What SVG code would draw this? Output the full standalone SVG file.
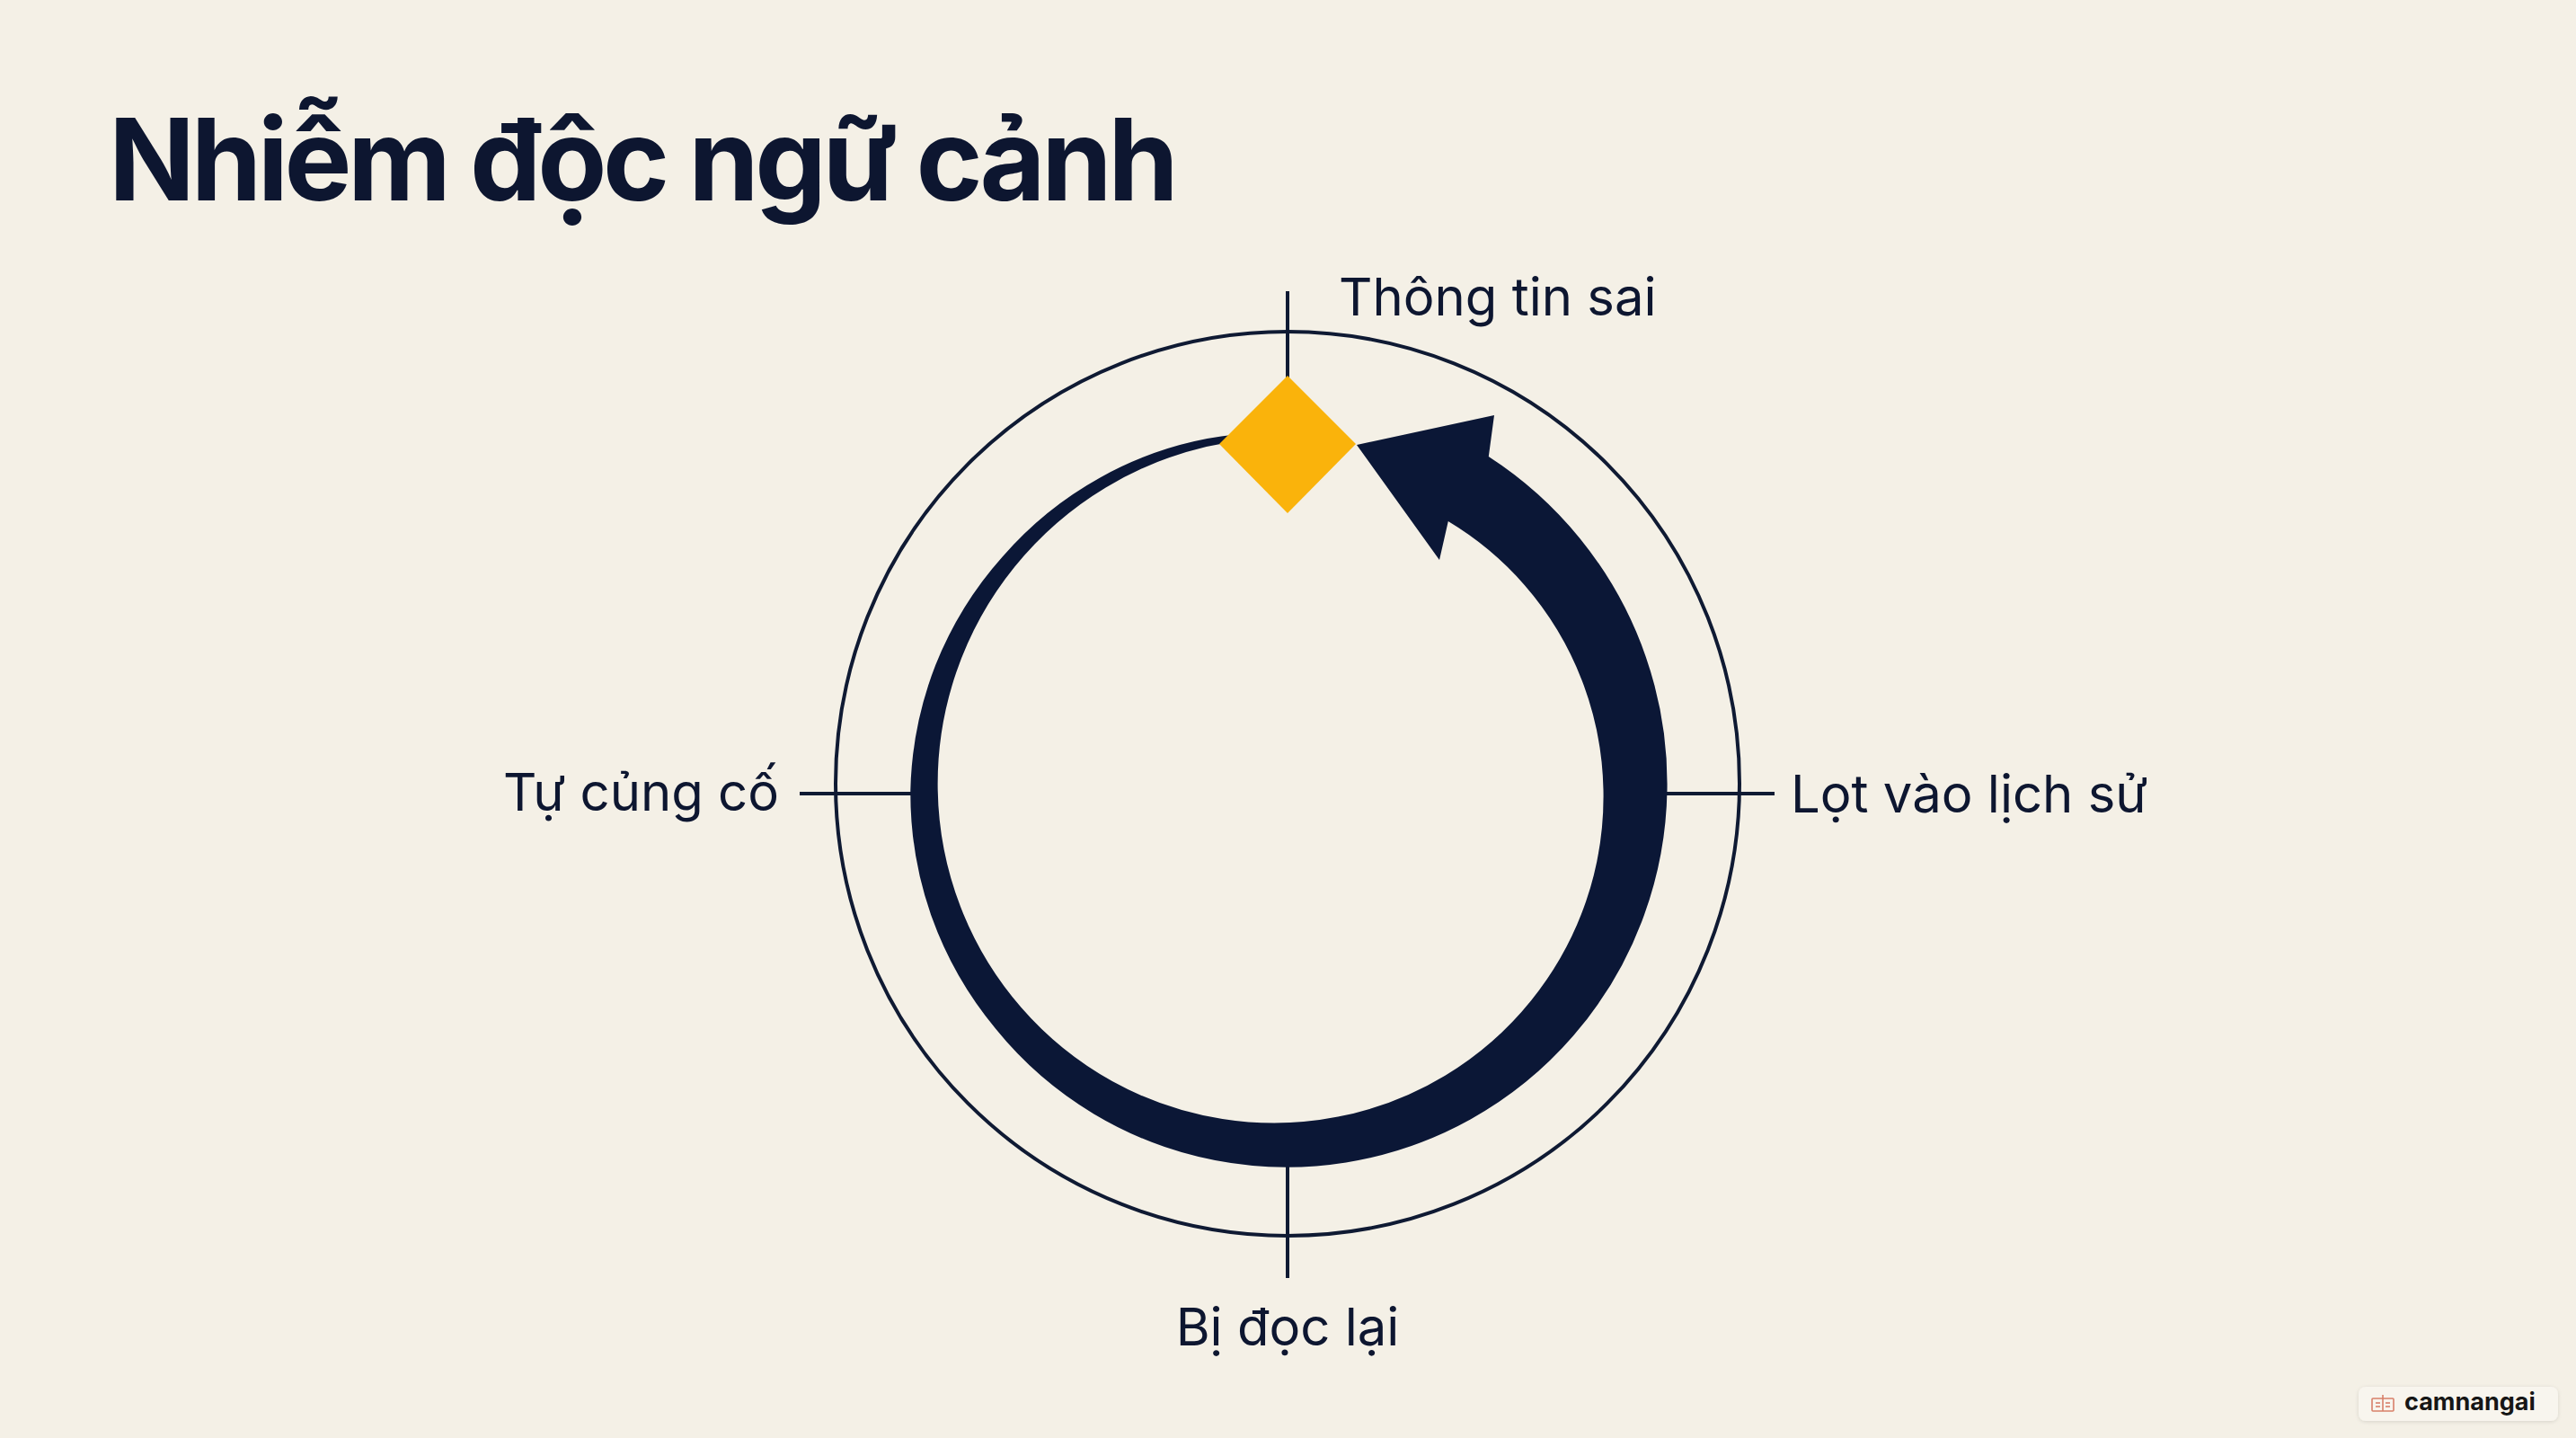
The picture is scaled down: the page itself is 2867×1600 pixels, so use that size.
<svg xmlns="http://www.w3.org/2000/svg" width="2867" height="1600" viewBox="0 0 2867 1600">
  <style>
    .bg { fill: #F4F0E6; }
    .title { font-family: Inter, "Liberation Sans", "Noto Sans", sans-serif; font-weight: 700; font-size: 126px; letter-spacing: -4.4px; fill: #0D1630; }
    .label { font-family: Inter, "Liberation Sans", "Noto Sans", sans-serif; font-weight: 400; font-size: 58px; fill: #0D1630; }
    .thin { fill: none; stroke: #0F1A33; stroke-width: 4; }
    .tick { stroke: #0F1A33; stroke-width: 4; fill: none; }
    .arc { fill: #0B1736; }
    .diamond { fill: #FAB30B; }
    .wm-text { font-family: Inter, "Liberation Sans", sans-serif; font-weight: 700; font-size: 27px; fill: #161616; }
  </style>
  <defs>
    <filter id="shadow" x="-10%" y="-30%" width="120%" height="160%">
      <feDropShadow dx="0" dy="1" stdDeviation="2" flood-color="#000" flood-opacity="0.12"/>
    </filter>
  </defs>

  <rect class="bg" x="0" y="0" width="2867" height="1600"/>

  <g id="title">
    <text class="title" x="121" y="223">Nhiễm độc ngữ cảnh</text>
  </g>

  <g id="ring">
    <circle class="thin" cx="1433" cy="872" r="503"/>
  </g>

  <g id="connectors">
    <line class="tick" x1="1433" y1="324" x2="1433" y2="420"/>
    <line class="tick" x1="1433" y1="1298" x2="1433" y2="1422"/>
    <line class="tick" x1="890" y1="883" x2="1014" y2="883"/>
    <line class="tick" x1="1852" y1="883" x2="1975" y2="883"/>
  </g>

  <g id="cycle-arrow">
    <path class="arc" d="M 1510 495 L 1663 462 L 1656.8 508.0
      A 436.4 436.4 0 0 1 1758.5 599.2
      A 434.1 434.1 0 0 1 1831.8 730.9
      A 431.7 431.7 0 0 1 1855.5 879
      A 429.2 429.2 0 0 1 1827.2 1025.4
      A 426.8 426.8 0 0 1 1751.0 1152.6
      A 424.4 424.4 0 0 1 1636.6 1245.5
      A 422.0 422.0 0 0 1 1498.1 1293.4
      A 419.6 419.6 0 0 1 1352.3 1291.0
      A 417.1 417.1 0 0 1 1217.0 1239.2
      A 414.7 414.7 0 0 1 1108.2 1144.8
      A 412.3 412.3 0 0 1 1036.7 1019.6
      A 411.9 411.9 0 0 1 1013.3 879
      A 409.5 409.5 0 0 1 1041.2 740.0
      A 405.0 405.0 0 0 1 1115.7 619.4
      A 402.6 402.6 0 0 1 1224.3 531.4
      A 399.9 399.9 0 0 1 1390.3 482.1
      L 1390.9 488.9
      A 390.1 390.1 0 0 0 1230.7 542.5
      A 387.4 387.4 0 0 0 1129.2 630.8
      A 385.0 385.0 0 0 0 1064.4 747.8
      A 382.5 382.5 0 0 0 1043.7 879
      A 380.1 380.1 0 0 0 1068.9 1008.6
      A 377.7 377.7 0 0 0 1136.6 1121.0
      A 375.3 375.3 0 0 0 1237.9 1203.0
      A 372.9 372.9 0 0 0 1360.5 1245.0
      A 370.4 370.4 0 0 0 1489.1 1242.6
      A 368.0 368.0 0 0 0 1608.4 1196.7
      A 365.6 365.6 0 0 0 1704.1 1113.2
      A 363.2 363.2 0 0 0 1765.2 1002.8
      A 360.8 360.8 0 0 0 1784.5 879
      A 358.3 358.3 0 0 0 1760.6 756.9
      A 355.9 355.9 0 0 0 1696.7 651.0
      A 353.6 353.6 0 0 0 1611.8 580.1
      L 1602 623 Z"/>
  </g>

  <g id="node-diamond">
    <polygon class="diamond" points="1433,418 1509,494 1433,571 1357,494"/>
  </g>

  <g id="label-top">
    <text class="label" x="1490" y="351">Thông tin sai</text>
  </g>
  <g id="label-right">
    <text class="label" x="1993" y="904">Lọt vào lịch sử</text>
  </g>
  <g id="label-bottom">
    <text class="label" x="1433" y="1497" text-anchor="middle">Bị đọc lại</text>
  </g>
  <g id="label-left">
    <text class="label" x="867" y="902" text-anchor="end">Tự củng cố</text>
  </g>

  <g id="watermark">
    <rect x="2625" y="1543" width="222" height="38" rx="8" fill="#F8F5EE" filter="url(#shadow)"/>
    <g fill="none" stroke="#D8806A" stroke-width="1.6">
      <rect x="2640" y="1556" width="24" height="14" rx="1"/>
      <line x1="2652" y1="1552" x2="2652" y2="1570"/>
      <line x1="2644" y1="1561" x2="2649" y2="1561"/>
      <line x1="2644" y1="1565" x2="2649" y2="1565"/>
      <line x1="2655" y1="1561" x2="2660" y2="1561"/>
      <line x1="2655" y1="1565" x2="2660" y2="1565"/>
    </g>
    <text class="wm-text" x="2676" y="1569">camnangai</text>
  </g>
</svg>
